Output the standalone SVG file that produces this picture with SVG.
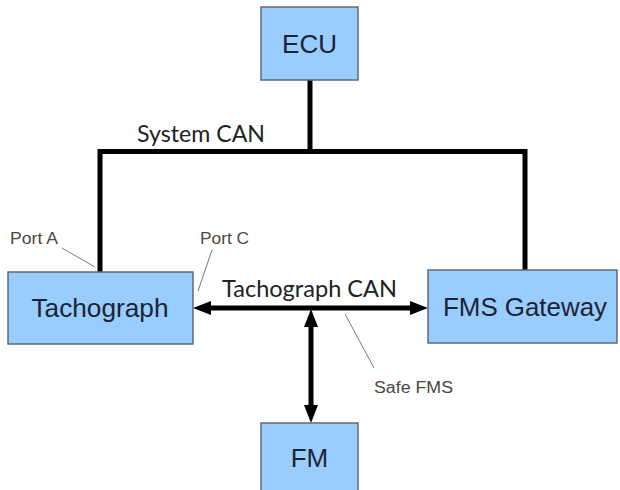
<svg xmlns="http://www.w3.org/2000/svg" width="620" height="490" viewBox="0 0 620 490">
<style>
.box{fill:#99ccff;stroke:#5f6a75;stroke-width:1.5}
.lbl{font-family:"Liberation Sans",Arial,sans-serif;font-size:26px;fill:#1c2433;text-anchor:middle}
.bus{fill:none;stroke:#000;stroke-width:5}
.can{font-family:Lato,"Open Sans",sans-serif;font-size:24px;fill:#222}
.note{font-family:"Liberation Sans",Arial,sans-serif;font-size:16px;fill:#4d4640}
.lead{stroke:#777;stroke-width:1;fill:none}
</style>
<defs>
<marker id="ah" markerUnits="userSpaceOnUse" markerWidth="20" markerHeight="16" refX="0" refY="7" orient="auto-start-reverse">
<path d="M0,0 L18,7 L0,14 z" fill="#000"/>
</marker>
</defs>
<g id="connectors">
<polyline class="bus" points="310,80 310,151.5"/>
<polyline class="bus" points="100,272 100,151.5 525,151.5 525,270"/>
<line class="bus" x1="211" y1="308" x2="410" y2="308" marker-start="url(#ah)" marker-end="url(#ah)"/>
<line class="bus" x1="311" y1="327" x2="311" y2="405" marker-start="url(#ah)" marker-end="url(#ah)"/>
<line class="lead" x1="62" y1="248" x2="95" y2="267"/>
<line class="lead" x1="212" y1="250" x2="198" y2="291"/>
<line class="lead" x1="345" y1="314" x2="374" y2="368"/>
<text class="can" x="137" y="142" textLength="128" lengthAdjust="spacingAndGlyphs">System CAN</text>
<text class="can" x="222" y="297" textLength="175" lengthAdjust="spacingAndGlyphs">Tachograph CAN</text>
<text class="note" x="10" y="244" textLength="48" lengthAdjust="spacingAndGlyphs">Port A</text>
<text class="note" x="200" y="244" textLength="49" lengthAdjust="spacingAndGlyphs">Port C</text>
<text class="note" x="374" y="393" textLength="79" lengthAdjust="spacingAndGlyphs">Safe FMS</text>
</g>
<g id="ecu">
<rect class="box" x="261" y="7" width="97" height="73"/>
<text class="lbl" x="309.5" y="53">ECU</text>
</g>
<g id="tachograph">
<rect class="box" x="8" y="272" width="185" height="72"/>
<text class="lbl" x="100" y="317" textLength="137" lengthAdjust="spacingAndGlyphs">Tachograph</text>
</g>
<g id="fms-gateway">
<rect class="box" x="428" y="270" width="189" height="73"/>
<text class="lbl" x="525" y="316" textLength="164" lengthAdjust="spacingAndGlyphs">FMS Gateway</text>
</g>
<g id="fm">
<rect class="box" x="261" y="423" width="97" height="70"/>
<text class="lbl" x="309.5" y="467">FM</text>
</g>
</svg>
